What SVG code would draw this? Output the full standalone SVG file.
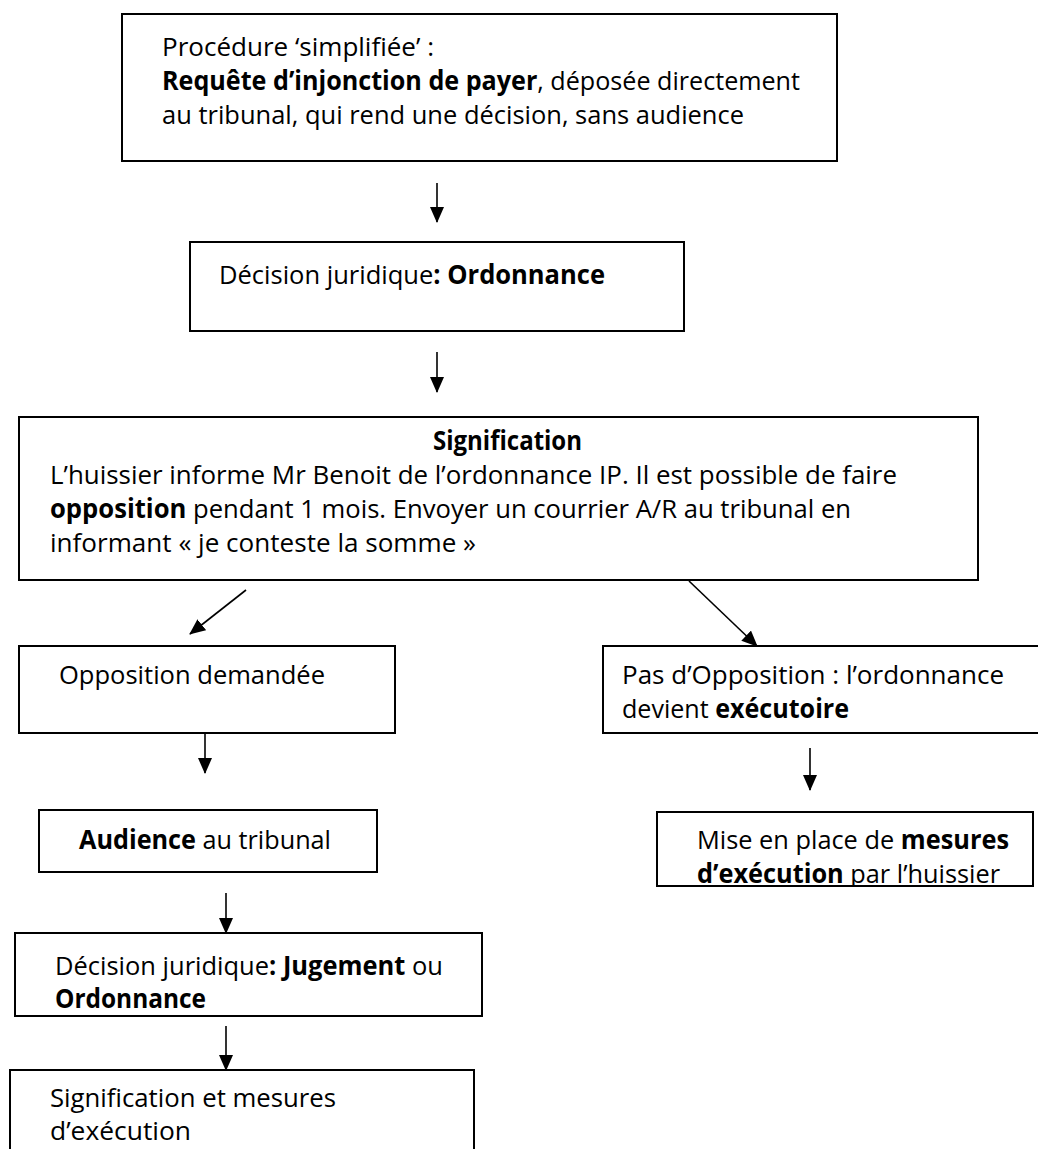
<svg xmlns="http://www.w3.org/2000/svg" width="1038" height="1149" viewBox="0 0 1038 1149">
<style>
.box{fill:#fff;stroke:#000;stroke-width:2}
.t{font-family:"Open Sans","Noto Sans",sans-serif;font-size:26px;fill:#000}
.b{font-weight:bold}
.c{stroke:#000;stroke-width:1.6;fill:none;marker-end:url(#ah)}
</style>
<defs>
<marker id="ah" markerUnits="userSpaceOnUse" markerWidth="16" markerHeight="14" refX="15" refY="7" orient="auto" viewBox="0 0 16 14">
<path d="M0,0 L16,7 L0,14 z" fill="#000"/>
</marker>
<clipPath id="clip7"><rect x="657" y="812" width="376" height="74"/></clipPath>
</defs>
<rect width="1038" height="1149" fill="#fff"/>
<g id="connectors">
<line class="c" x1="437" y1="183" x2="437" y2="222"/>
<line class="c" x1="437" y1="352" x2="437" y2="392"/>
<line class="c" x1="246" y1="590" x2="190" y2="634"/>
<line class="c" x1="689" y1="581" x2="757" y2="646"/>
<line class="c" x1="205" y1="733" x2="205" y2="773"/>
<line class="c" x1="810" y1="748" x2="810" y2="790"/>
<line class="c" x1="226" y1="893" x2="226" y2="933"/>
<line class="c" x1="226" y1="1026" x2="226" y2="1070"/>
</g>
<g id="n1">
<rect class="box" x="122" y="14" width="715" height="147"/>
<text class="t" x="162" y="56" textLength="272" lengthAdjust="spacingAndGlyphs">Procédure ‘simplifiée’ :</text>
<text class="t" x="162" y="90" textLength="638" lengthAdjust="spacingAndGlyphs"><tspan class="b">Requête d’injonction de payer</tspan>, déposée directement</text>
<text class="t" x="162" y="124" textLength="582" lengthAdjust="spacingAndGlyphs">au tribunal, qui rend une décision, sans audience</text>
</g>
<g id="n2">
<rect class="box" x="190" y="242" width="494" height="89"/>
<text class="t" x="219" y="284" textLength="386" lengthAdjust="spacingAndGlyphs">Décision juridique<tspan class="b">: Ordonnance</tspan></text>
</g>
<g id="n3">
<rect class="box" x="19" y="417" width="959" height="163"/>
<text class="t b" x="433" y="450" textLength="149" lengthAdjust="spacingAndGlyphs">Signification</text>
<text class="t" x="50" y="484" textLength="847" lengthAdjust="spacingAndGlyphs">L’huissier informe Mr Benoit de l’ordonnance IP. Il est possible de faire</text>
<text class="t" x="50" y="518" textLength="801" lengthAdjust="spacingAndGlyphs"><tspan class="b">opposition</tspan> pendant 1 mois. Envoyer un courrier A/R au tribunal en</text>
<text class="t" x="50" y="552" textLength="426" lengthAdjust="spacingAndGlyphs">informant « je conteste la somme »</text>
</g>
<g id="n4">
<rect class="box" x="19" y="646" width="376" height="87"/>
<text class="t" x="59" y="684" textLength="266" lengthAdjust="spacingAndGlyphs">Opposition demandée</text>
</g>
<g id="n5">
<rect class="box" x="603" y="646" width="442" height="87"/>
<text class="t" x="622" y="684" textLength="382" lengthAdjust="spacingAndGlyphs">Pas d’Opposition : l’ordonnance</text>
<text class="t" x="622" y="718" textLength="227" lengthAdjust="spacingAndGlyphs">devient <tspan class="b">exécutoire</tspan></text>
</g>
<g id="n6">
<rect class="box" x="39" y="810" width="338" height="62"/>
<text class="t" x="79" y="849" textLength="252" lengthAdjust="spacingAndGlyphs"><tspan class="b">Audience</tspan> au tribunal</text>
</g>
<g id="n7">
<rect class="box" x="657" y="812" width="376" height="74"/>
<g clip-path="url(#clip7)">
<text class="t" x="697" y="849" textLength="312" lengthAdjust="spacingAndGlyphs">Mise en place de <tspan class="b">mesures</tspan></text>
<text class="t" x="697" y="883" textLength="303" lengthAdjust="spacingAndGlyphs"><tspan class="b">d’exécution</tspan> par l’huissier</text>
</g>
</g>
<g id="n8">
<rect class="box" x="15" y="933" width="467" height="83"/>
<text class="t" x="55" y="975" textLength="388" lengthAdjust="spacingAndGlyphs">Décision juridique<tspan class="b">: Jugement</tspan> ou</text>
<text class="t b" x="55" y="1008" textLength="151" lengthAdjust="spacingAndGlyphs">Ordonnance</text>
</g>
<g id="n9">
<rect class="box" x="10" y="1070" width="464" height="90"/>
<text class="t" x="50" y="1107" textLength="286" lengthAdjust="spacingAndGlyphs">Signification et mesures</text>
<text class="t" x="50" y="1140" textLength="141" lengthAdjust="spacingAndGlyphs">d’exécution</text>
</g>
</svg>
